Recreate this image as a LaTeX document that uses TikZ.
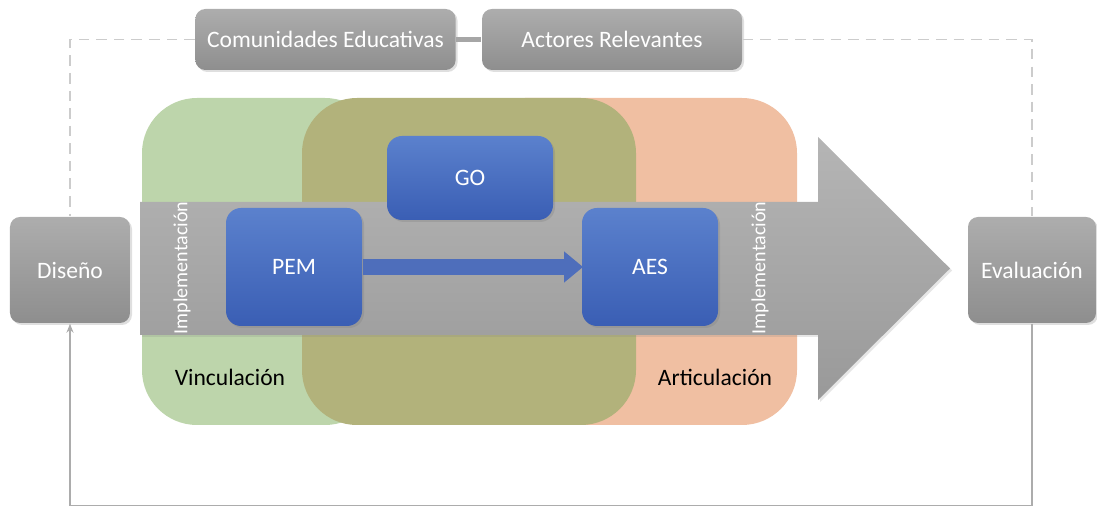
\documentclass[tikz,border=0pt]{standalone}
\usepackage{fontspec}
\setmainfont{Carlito}
\usetikzlibrary{arrows.meta,shadows}

\definecolor{greyTop}{HTML}{ADADAD}
\definecolor{greyBot}{HTML}{8E8E8E}
\definecolor{blueTop}{HTML}{5B81CD}
\definecolor{blueBot}{HTML}{3A5EB4}
\definecolor{vincGreen}{HTML}{BDD5AB}
\definecolor{artOrange}{HTML}{F0BFA2}
\definecolor{midOlive}{HTML}{B2B27B}

\begin{document}
\begin{tikzpicture}[
        greybox/.style={rectangle, rounded corners=0.1cm, top color=greyTop, bottom color=greyBot, text=white, font=\fontsize{6.7}{8}\selectfont, drop shadow={opacity=0.25, shadow xshift=0.02cm, shadow yshift=-0.02cm}},
        bluebox/.style={rectangle, rounded corners=0.15cm, top color=blueTop, bottom color=blueBot, text=white, minimum width=1.36cm, minimum height=1.18cm, font=\fontsize{6.7}{8}\selectfont, drop shadow={opacity=0.3, shadow xshift=0.02cm, shadow yshift=-0.02cm}},
        zone/.style={rounded corners=0.55cm},
        impl/.style={rotate=90, text=white, font=\fontsize{5.7}{6}\selectfont},
        zonelabel/.style={text=black, font=\fontsize{6.7}{8}\selectfont},
        dashline/.style={draw=gray!40, densely dashed, line width=0.4pt},
        backline/.style={draw=gray!65, line width=0.5pt, -{Stealth[length=0.09cm,width=0.07cm]}}
    ]
        \useasboundingbox (0,0) rectangle (10.97,-5.06);

        % Colored zones
        \fill[zone, vincGreen] (1.42,-0.98) rectangle (3.80,-4.25);
        \fill[zone, artOrange] (4.70,-0.98) rectangle (7.97,-4.25);
        \fill[zone, midOlive] (3.02,-0.98) rectangle (6.36,-4.25);

        % Big implementation arrow
        \shade[top color=gray!58, bottom color=gray!80, drop shadow={opacity=0.2, shadow xshift=0.02cm, shadow yshift=-0.02cm}]
            (1.40,-2.02) -- (8.18,-2.02) -- (8.18,-1.37) -- (9.50,-2.685)
            -- (8.18,-4.00) -- (8.18,-3.35) -- (1.40,-3.35) -- cycle;

        % Top boxes
        \node[greybox, minimum width=2.59cm, minimum height=0.61cm] (comunidades) at (3.255,-0.395) {Comunidades Educativas};
        \node[greybox, minimum width=2.60cm, minimum height=0.61cm] (actores) at (6.12,-0.395) {Actores Relevantes};

        % Side boxes
        \node[greybox, minimum width=1.20cm, minimum height=1.06cm] (diseno) at (0.70,-2.70) {Diseño};
        \node[greybox, minimum width=1.28cm, minimum height=1.06cm] (evaluacion) at (10.32,-2.70) {Evaluación};

        % Inner boxes
        \node[bluebox] (pem) at (2.94,-2.67) {PEM};
        \node[bluebox] (aes) at (6.50,-2.67) {AES};
        \node[bluebox, minimum width=1.66cm, minimum height=0.84cm] (go) at (4.70,-1.78) {GO};

        % Labels
        \node[impl] (impl_left) at (1.82,-2.68) {Implementación};
        \node[impl] (impl_right) at (7.60,-2.68) {Implementación};
        \node[zonelabel] (vinc) at (2.30,-3.77) {Vinculación};
        \node[zonelabel] (artic) at (7.15,-3.77) {Articulación};

        % Connections
        \draw[blueBot!90, line width=4.6pt, -{Triangle[length=0.19cm, width=0.30cm]}, shorten >=-0.5pt] (pem) -- (aes);
        \draw[draw=gray!70, line width=1.2pt] (comunidades) -- (actores);
        \draw[dashline] (comunidades.west) -| (diseno.north);
        \draw[dashline] (actores.east) -| (evaluacion.north);
        \draw[backline] (evaluacion.south) -- ++(0,-1.82) -| (diseno.south);

    \end{tikzpicture}
\end{document}
